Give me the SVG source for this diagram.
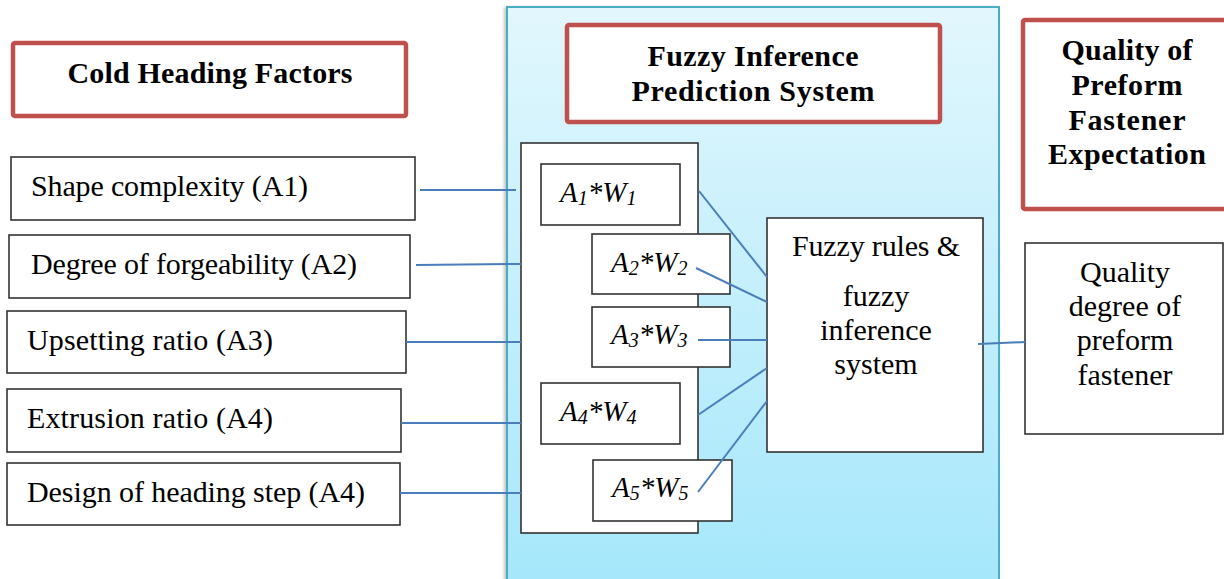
<svg xmlns="http://www.w3.org/2000/svg" width="1224" height="579" viewBox="0 0 1224 579">
<defs>
<linearGradient id="panelGrad" x1="0" y1="0" x2="0" y2="1">
<stop offset="0" stop-color="#e2f7fd"/>
<stop offset="1" stop-color="#a5e7fb"/>
</linearGradient>
<filter id="shadow" x="-5%" y="-5%" width="110%" height="110%">
<feDropShadow dx="-2" dy="1" stdDeviation="1.5" flood-color="#888" flood-opacity="0.5"/>
</filter>
</defs>
<style>
.box{fill:#fff;stroke:#333;stroke-width:1.6}
.title{fill:#fff;stroke:#c0504d;stroke-width:4.5}
.t{font-family:"Liberation Serif",serif;font-size:30px;fill:#000}
.tb{font-family:"Liberation Serif",serif;font-size:30px;font-weight:bold;fill:#000}
.aw{font-family:"Liberation Serif",serif;font-size:29px;font-style:italic;fill:#000}
.sub{font-size:20px}
.c{text-anchor:middle}
.conn line{stroke:#4a7ebb;stroke-width:2}
</style>
<rect width="1224" height="579" fill="#fff"/>
<g id="panel">
<rect x="507" y="7" width="492" height="580" fill="url(#panelGrad)" stroke="#4bacc6" stroke-width="2" filter="url(#shadow)"/>
</g>
<g id="cold-heading-factors">
<rect class="title" x="13" y="43" width="393" height="73" rx="2"/>
<text class="tb c" x="210" y="83" textLength="285">Cold Heading Factors</text>
</g>
<g id="fuzzy-inference-title">
<rect class="title" x="567" y="25" width="373" height="97" rx="2"/>
<text class="tb c" x="753" y="66" textLength="211">Fuzzy Inference</text>
<text class="tb c" x="753" y="101" textLength="243">Prediction System</text>
</g>
<g id="quality-expectation-title">
<rect class="title" x="1023" y="20" width="206" height="189" rx="2"/>
<text class="tb c" x="1127" y="60" textLength="131">Quality of</text>
<text class="tb c" x="1127" y="95" textLength="111">Preform</text>
<text class="tb c" x="1127" y="130" textLength="117">Fastener</text>
<text class="tb c" x="1127" y="164" textLength="158">Expectation</text>
</g>
<g id="a1">
<rect class="box" x="11" y="157" width="404" height="63"/>
<text class="t" x="31" y="196" textLength="277">Shape complexity (A1)</text>
</g>
<g id="a2">
<rect class="box" x="9" y="235" width="401" height="63"/>
<text class="t" x="31" y="274" textLength="326">Degree of forgeability (A2)</text>
</g>
<g id="a3">
<rect class="box" x="7" y="311" width="399" height="62"/>
<text class="t" x="27" y="350" textLength="246">Upsetting ratio (A3)</text>
</g>
<g id="a4">
<rect class="box" x="7" y="389" width="394" height="63"/>
<text class="t" x="27" y="428" textLength="246">Extrusion ratio (A4)</text>
</g>
<g id="a5">
<rect class="box" x="7" y="463" width="393" height="62"/>
<text class="t" x="27" y="502" textLength="338">Design of heading step (A4)</text>
</g>
<g id="weights-container">
<rect class="box" x="521" y="143" width="177" height="390"/>
</g>
<g id="w1">
<rect class="box" x="541" y="164" width="139" height="61"/>
<text class="aw" x="560" y="202">A<tspan class="sub" dy="3">1</tspan><tspan dy="-3">*W</tspan><tspan class="sub" dy="3">1</tspan></text>
</g>
<g id="w2">
<rect class="box" x="592" y="234" width="138" height="60"/>
<text class="aw" x="611" y="272">A<tspan class="sub" dy="3">2</tspan><tspan dy="-3">*W</tspan><tspan class="sub" dy="3">2</tspan></text>
</g>
<g id="w3">
<rect class="box" x="592" y="307" width="138" height="60"/>
<text class="aw" x="611" y="344">A<tspan class="sub" dy="3">3</tspan><tspan dy="-3">*W</tspan><tspan class="sub" dy="3">3</tspan></text>
</g>
<g id="w4">
<rect class="box" x="541" y="383" width="139" height="61"/>
<text class="aw" x="560" y="421">A<tspan class="sub" dy="3">4</tspan><tspan dy="-3">*W</tspan><tspan class="sub" dy="3">4</tspan></text>
</g>
<g id="w5">
<rect class="box" x="593" y="460" width="139" height="61"/>
<text class="aw" x="612" y="497">A<tspan class="sub" dy="3">5</tspan><tspan dy="-3">*W</tspan><tspan class="sub" dy="3">5</tspan></text>
</g>
<g id="fuzzy-rules">
<rect class="box" x="767" y="218" width="216" height="234"/>
<text class="t c" x="876" y="256" textLength="168">Fuzzy rules &amp;</text>
<text class="t c" x="876" y="306">fuzzy</text>
<text class="t c" x="876" y="340">inference</text>
<text class="t c" x="876" y="374">system</text>
</g>
<g id="quality-degree">
<rect class="box" x="1025" y="243" width="198" height="191"/>
<text class="t c" x="1125" y="282">Quality</text>
<text class="t c" x="1125" y="316">degree of</text>
<text class="t c" x="1125" y="350">preform</text>
<text class="t c" x="1125" y="385">fastener</text>
</g>
<g id="connectors" class="conn">
<line x1="420" y1="190" x2="516" y2="190"/>
<line x1="416" y1="265" x2="521" y2="264"/>
<line x1="406" y1="342" x2="521" y2="342"/>
<line x1="401" y1="423" x2="521" y2="423"/>
<line x1="400" y1="493" x2="521" y2="493"/>
<line x1="699" y1="191" x2="767" y2="277"/>
<line x1="696" y1="268" x2="767" y2="302"/>
<line x1="698" y1="340" x2="767" y2="340"/>
<line x1="698" y1="415" x2="767" y2="368"/>
<line x1="698" y1="492" x2="767" y2="401"/>
<line x1="978" y1="344" x2="1025" y2="342"/>
</g>
</svg>
